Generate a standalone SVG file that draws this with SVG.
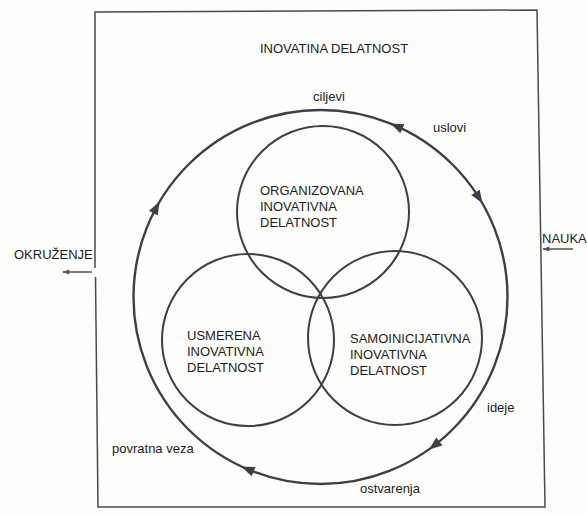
<svg xmlns="http://www.w3.org/2000/svg" width="587" height="515" viewBox="0 0 587 515">
  <defs>
    <style>
      .t { font-family: "Liberation Sans", Arial, sans-serif; font-size: 13px; fill: #1c1c1c; }
      .ring { fill: none; stroke: #3e3e44; stroke-width: 2; }
      .cycle { fill: none; stroke: #3e3e44; stroke-width: 2.4; }
      .box { fill: none; stroke: #4a4a4a; stroke-width: 1.5; }
      .ext { stroke: #555; stroke-width: 1.5; fill: none; }
      .head { fill: #3e3e48; }
    </style>
    <path id="ah" d="M7,0 L-6,-5 L-6,5 Z"/>
    <marker id="sm" viewBox="0 0 10 10" refX="9" refY="5" markerWidth="8" markerHeight="7" orient="auto" markerUnits="userSpaceOnUse">
      <path d="M0,1.5 L10,5 L0,8.5 Z" fill="#555"/>
    </marker>
  </defs>
  <rect width="587" height="515" fill="#fdfdfb"/>

  <g id="frame">
    <path class="box" d="M95,268 L95,12 L537,10 L545,507 L98,507 L95.5,277"/>
    <text class="t" x="260" y="53">INOVATINA DELATNOST</text>
  </g>

  <g id="okruzenje">
    <text class="t" x="14" y="259">OKRUŽENJE</text>
  </g>
  <g id="nauka">
    <text class="t" x="542" y="243">NAUKA</text>
  </g>

  <g id="organizovana">
    <circle class="ring" cx="323" cy="212" r="86"/>
    <text class="t" x="260" y="195">ORGANIZOVANA</text>
    <text class="t" x="260" y="211">INOVATIVNA</text>
    <text class="t" x="260" y="227">DELATNOST</text>
  </g>
  <g id="usmerena">
    <circle class="ring" cx="248" cy="340" r="86"/>
    <text class="t" x="187" y="340">USMERENA</text>
    <text class="t" x="187" y="356">INOVATIVNA</text>
    <text class="t" x="187" y="372">DELATNOST</text>
  </g>
  <g id="samoinicijativna">
    <circle class="ring" cx="395" cy="338" r="87"/>
    <text class="t" x="350" y="343">SAMOINICIJATIVNA</text>
    <text class="t" x="350" y="359">INOVATIVNA</text>
    <text class="t" x="350" y="375">DELATNOST</text>
  </g>

  <g id="connectors">
    <circle class="cycle" cx="320.5" cy="297" r="187"/>
    <use href="#ah" class="head" transform="translate(156.2,207.8) rotate(-61.5)"/>
    <use href="#ah" class="head" transform="translate(396.9,126.3) rotate(204.1)"/>
    <use href="#ah" class="head" transform="translate(478.7,197.4) rotate(57.8)"/>
    <use href="#ah" class="head" transform="translate(434.6,445.2) rotate(142.4)"/>
    <use href="#ah" class="head" transform="translate(248,469.4) rotate(202.8)"/>
    <line class="ext" x1="92" y1="272" x2="63" y2="272" marker-end="url(#sm)"/>
    <line class="ext" x1="573" y1="249" x2="543" y2="249" marker-end="url(#sm)"/>
    <text class="t" x="313" y="101">ciljevi</text>
    <text class="t" x="433" y="132">uslovi</text>
    <text class="t" x="487" y="412">ideje</text>
    <text class="t" x="112" y="453">povratna veza</text>
    <text class="t" x="360" y="493">ostvarenja</text>
  </g>
</svg>
